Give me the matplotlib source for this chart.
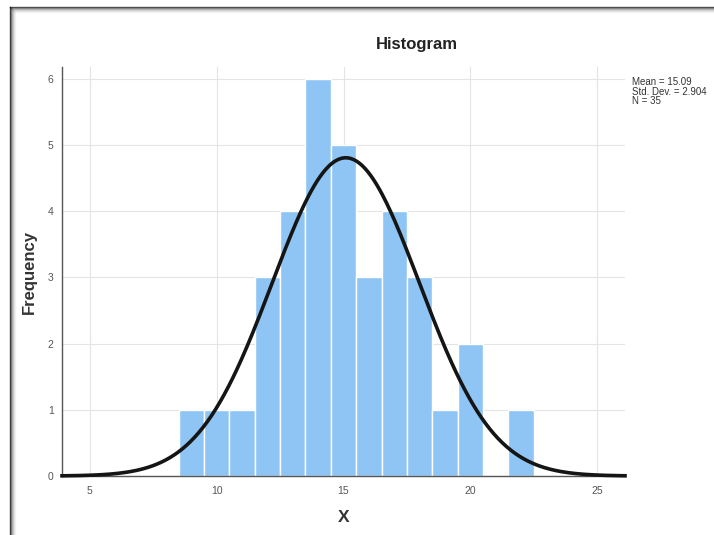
import numpy as np
import matplotlib.pyplot as plt
from matplotlib.lines import Line2D

plt.rcParams['font.family'] = ['Liberation Sans', 'DejaVu Sans']

# histogram bins (left edges) and counts
bin_edges = [8.5, 9.5, 10.5, 11.5, 12.5, 13.5, 14.5, 15.5, 16.5, 17.5, 18.5, 19.5, 20.5, 21.5]
counts = [1, 1, 1, 3, 4, 6, 5, 3, 4, 3, 1, 2, 0, 1]
mean = 15.09
std = 2.904
n = 35
x_ticks = [5, 10, 15, 20, 25]
y_ticks = [0, 1, 2, 3, 4, 5, 6]

W, H = 714, 535
fig = plt.figure(figsize=(W / 100, H / 100), dpi=100)
fig.patch.set_facecolor('white')

ax = fig.add_axes([62 / W, 59 / H, (625 - 62) / W, (476 - 67) / H])
ax.set_xlim(3.9, 26.1)
ax.set_ylim(0, 6.18)

# grid
for gx in x_ticks:
    ax.axvline(gx, color='#e4e4e4', lw=0.8, zorder=0)
for gy in y_ticks[1:]:
    ax.axhline(gy, color='#e4e4e4', lw=0.8, zorder=0)

ax.bar(bin_edges, counts, width=1.0, align='edge', color='#8ec5f4',
       edgecolor='white', linewidth=1.0, zorder=2)

xs = np.linspace(3.9, 26.1, 400)
pdf = n * 1.0 / (std * np.sqrt(2 * np.pi)) * np.exp(-0.5 * ((xs - mean) / std) ** 2)
ax.plot(xs, pdf, color='#151515', lw=2.6, zorder=3, clip_on=False)

ax.set_xticks(x_ticks)
ax.set_yticks(y_ticks)
ax.tick_params(axis='both', length=0, labelsize=7.5, colors='#555555', pad=7)
ax.tick_params(axis='y', pad=6)
for s in ['top', 'right']:
    ax.spines[s].set_visible(False)
ax.spines['left'].set_color('#555555')
ax.spines['bottom'].set_color('#555555')
ax.spines['left'].set_linewidth(1.0)
ax.spines['bottom'].set_linewidth(1.0)

ax.set_xlabel('X', fontsize=12.5, fontweight='bold', color='#333333', labelpad=10)
ax.set_ylabel('Frequency', fontsize=12, fontweight='bold', color='#333333', labelpad=8)

fig.text(417 / W, 1 - 45 / H, 'Histogram', ha='center', va='center',
         fontsize=12, fontweight='bold', color='#222222')
fig.text(632 / W, 1 - 77 / H, 'Mean = 15.09\nStd. Dev. = 2.904\nN = 35',
         ha='left', va='top', fontsize=7, color='#333333', linespacing=0.95)

# scanned frame border with shading
for i, a in enumerate([0.75, 0.4, 0.25, 0.15, 0.08, 0.04]):
    xl = (10 + i) / W
    yt = 1 - (7 + i) / H
    fig.add_artist(Line2D([xl, xl], [0, yt], transform=fig.transFigure,
                          color='black', alpha=a, lw=1))
    fig.add_artist(Line2D([xl, 1], [yt, yt], transform=fig.transFigure,
                          color='black', alpha=a * 0.9, lw=1))

fig.savefig('out.png', dpi=100)
